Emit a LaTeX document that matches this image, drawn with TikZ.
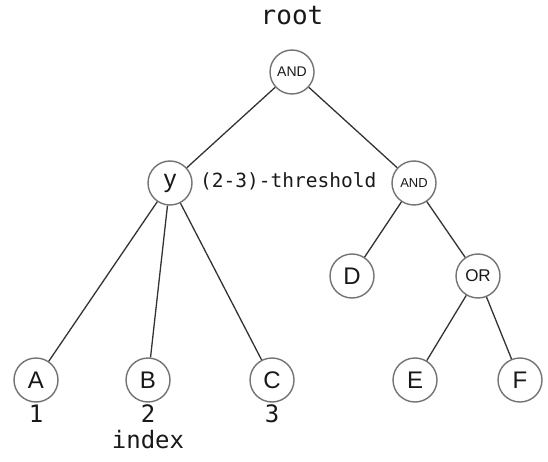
\documentclass[tikz,border=0pt]{standalone}
\usepackage{fontspec}
\setmainfont{Liberation Sans}
\newfontfamily\monof{DejaVu Sans Mono}
\begin{document}
\begin{tikzpicture}[x=1pt,y=-1pt,
  gate/.style={circle,draw=black!55,line width=1.4pt,minimum size=44pt,inner sep=0pt,fill=white,text=black!90},
  edge/.style={draw=black!80,line width=1.3pt},
  mono/.style={font=\monof\fontsize{#1}{#1}\selectfont,text=black!90,inner sep=0pt}]
\useasboundingbox (0,0) rectangle (548,462);
\node[mono=26] (rootlbl) at (292,16) {root};
\node[gate,font=\fontsize{14}{14}\selectfont] (and1) at (292,72) {AND};
\node[gate,font=\fontsize{25}{25}\selectfont] (y) at (170,183) {y};
\node[mono=19.5,anchor=west] (thr) at (200,181) {(2-3)-threshold};
\node[gate,font=\fontsize{13}{13}\selectfont] (and2) at (414,183) {AND};
\node[gate,font=\fontsize{24}{24}\selectfont] (D) at (352,276) {D};
\node[gate,font=\fontsize{17}{17}\selectfont] (OR) at (478,276) {OR};
\node[gate,font=\fontsize{24}{24}\selectfont] (A) at (36,380) {A};
\node[gate,font=\fontsize{24}{24}\selectfont] (B) at (148,380) {B};
\node[gate,font=\fontsize{24}{24}\selectfont] (C) at (272,380) {C};
\node[gate,font=\fontsize{24}{24}\selectfont] (E) at (415,380) {E};
\node[gate,font=\fontsize{24}{24}\selectfont] (F) at (520,380) {F};
\node[mono=24] (n1) at (36,414) {1};
\node[mono=24] (n2) at (148,414) {2};
\node[mono=24] (n3) at (272,414) {3};
\node[mono=24] (idx) at (148,440) {index};
\draw[edge] (and1) -- (y);
\draw[edge] (and1) -- (and2);
\draw[edge] (y) -- (A);
\draw[edge] (y) -- (B);
\draw[edge] (y) -- (C);
\draw[edge] (and2) -- (D);
\draw[edge] (and2) -- (OR);
\draw[edge] (OR) -- (E);
\draw[edge] (OR) -- (F);
\end{tikzpicture}
\end{document}
